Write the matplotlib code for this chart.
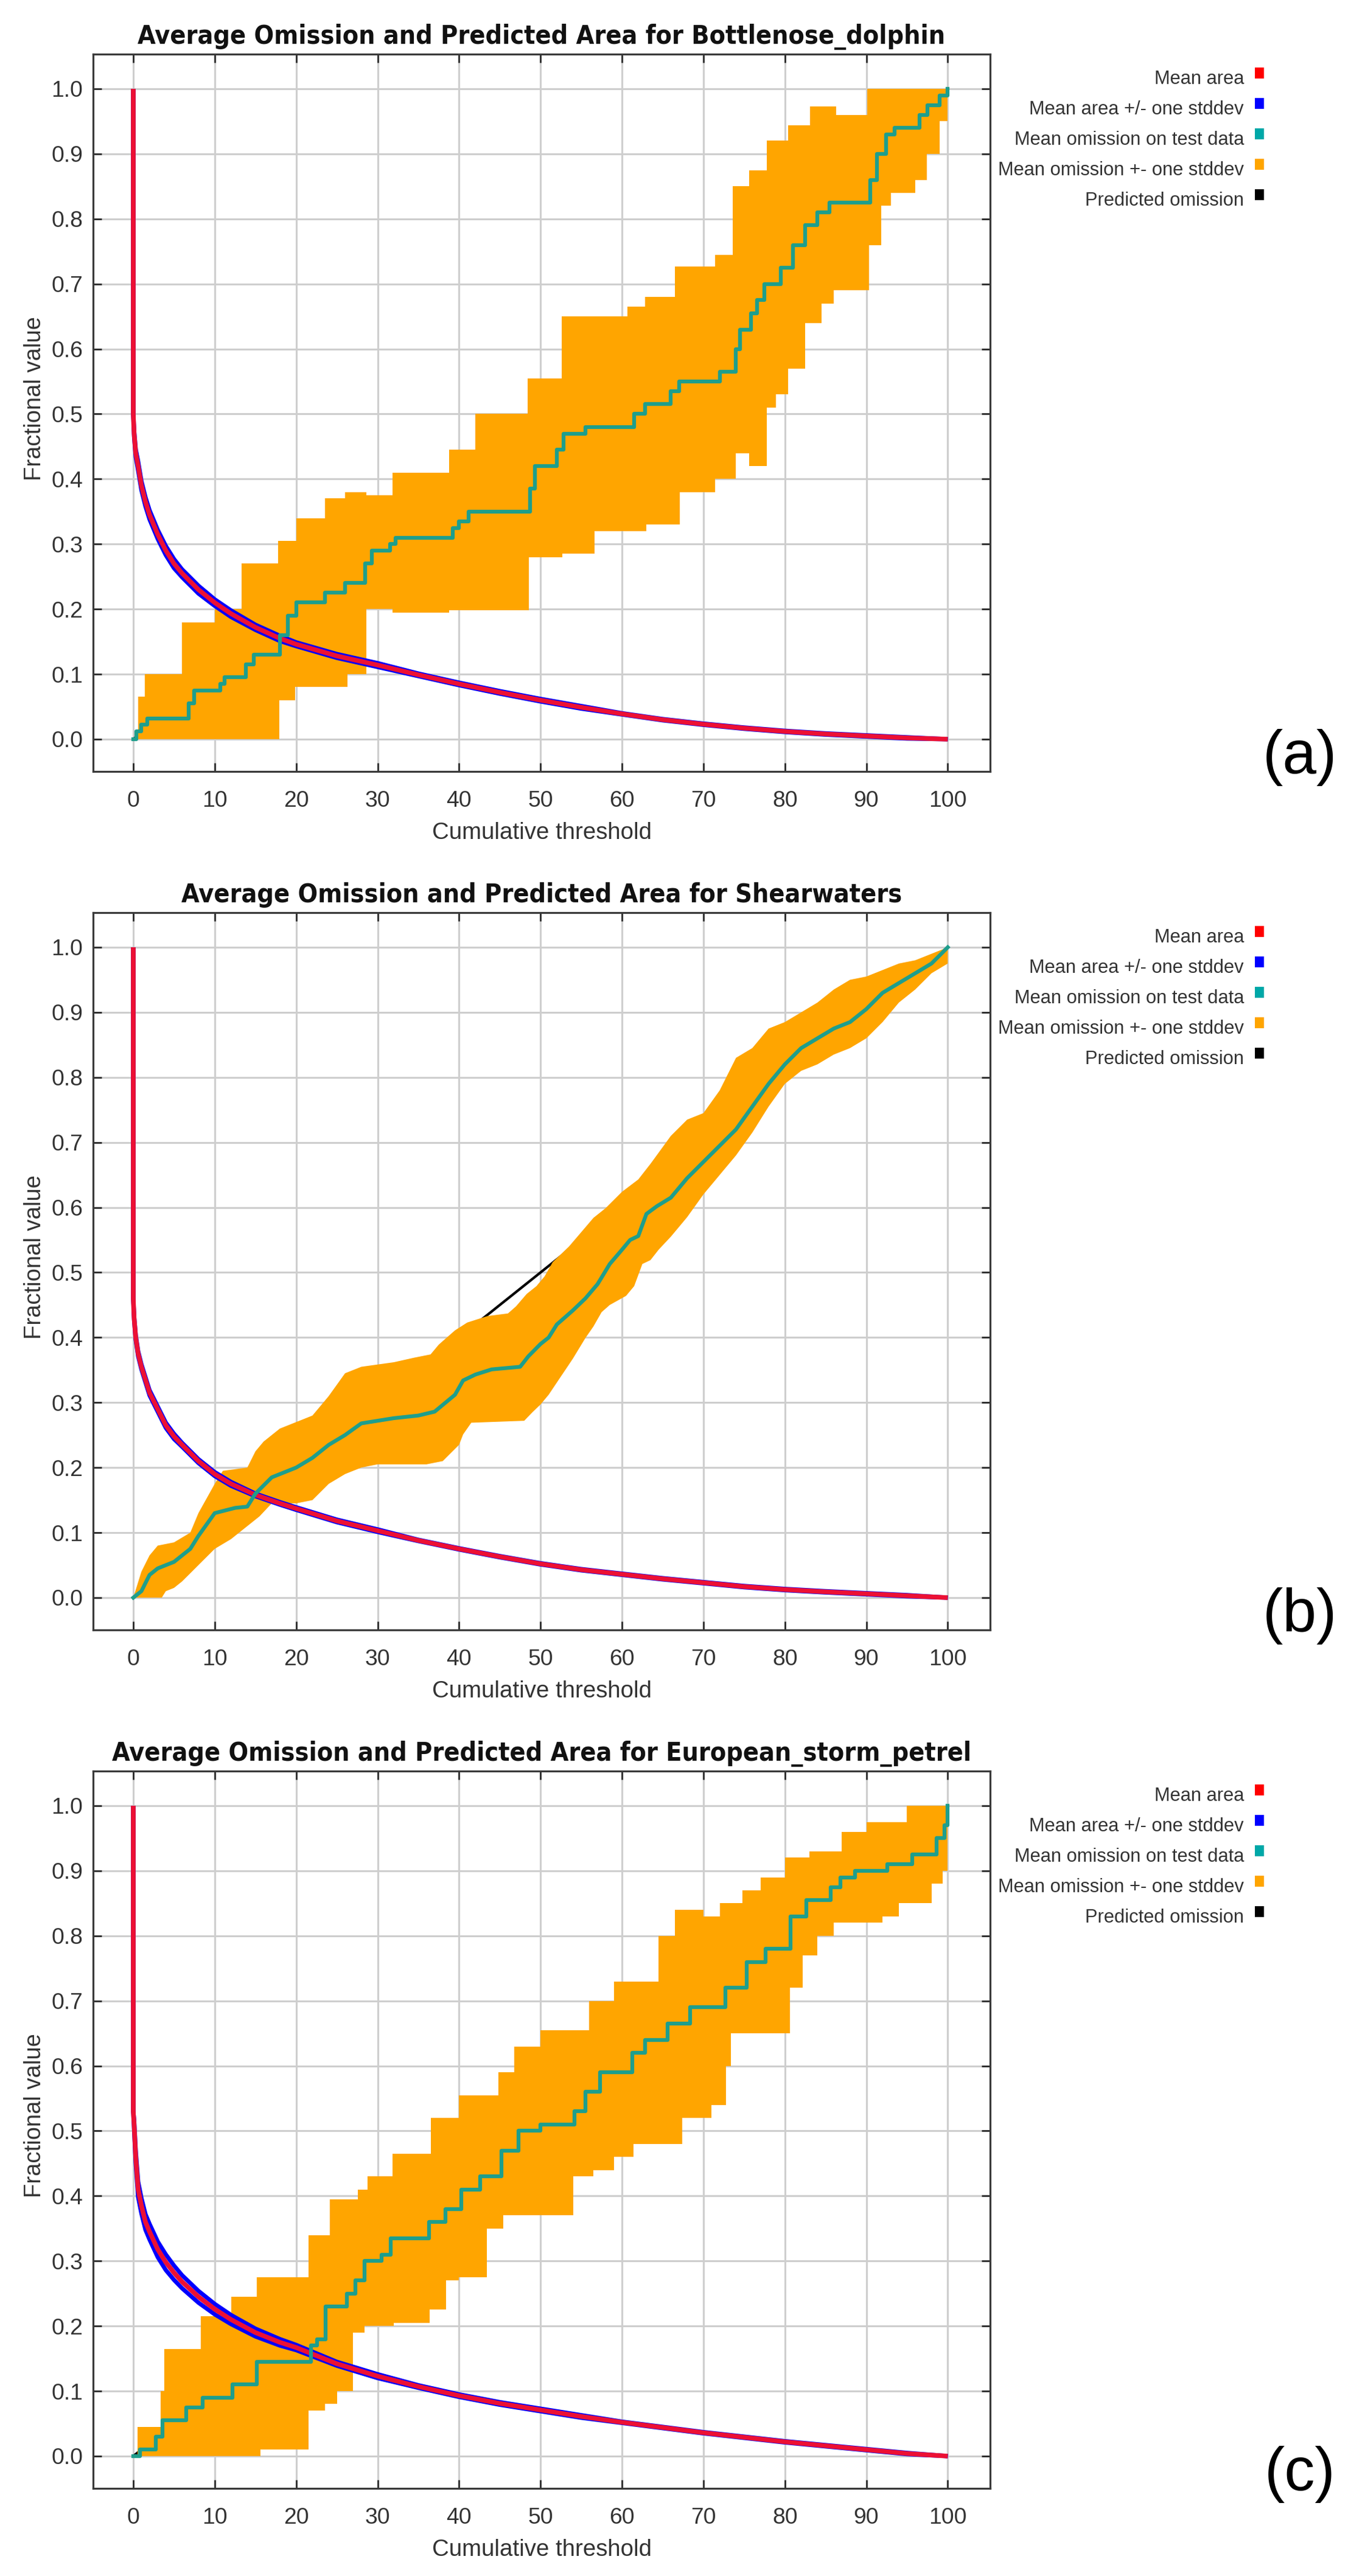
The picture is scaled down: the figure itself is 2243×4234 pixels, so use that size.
import numpy as np
import matplotlib
matplotlib.use("Agg")
import matplotlib.pyplot as plt
from matplotlib import font_manager
from matplotlib.patches import Rectangle

# ---------------- text ----------------
TITLES = ["Average Omission and Predicted Area for Bottlenose_dolphin",
          "Average Omission and Predicted Area for Shearwaters",
          "Average Omission and Predicted Area for European_storm_petrel"]
PANEL_LABELS = ["(a)", "(b)", "(c)"]
LEGEND_LABELS = ["Mean area", "Mean area +/- one stddev", "Mean omission on test data",
                 "Mean omission +- one stddev", "Predicted omission"]
LEGEND_COLORS = ["#FF0000", "#0000FF", "#00A8A8", "#FFA500", "#000000"]
X_TICKS = [0, 10, 20, 30, 40, 50, 60, 70, 80, 90, 100]
Y_TICKS = [0.0, 0.1, 0.2, 0.3, 0.4, 0.5, 0.6, 0.7, 0.8, 0.9, 1.0]
X_LABEL = "Cumulative threshold"
Y_LABEL = "Fractional value"

# ---------------- mean predicted area ----------------
AREA_X = [0, 0, 0.1, 0.3, 0.6, 1, 1.5, 2, 3, 4, 5, 6, 8, 10, 12, 15, 18, 20, 25, 30,
          35, 40, 45, 50, 55, 60, 65, 70, 75, 80, 85, 90, 95, 100]
AREA_A = [1.0, 0.50, 0.47, 0.44, 0.42, 0.39, 0.365, 0.345, 0.315, 0.29, 0.27, 0.255, 0.23,
          0.21, 0.193, 0.172, 0.155, 0.146, 0.128, 0.114, 0.099, 0.085, 0.072, 0.060, 0.049,
          0.039, 0.030, 0.023, 0.017, 0.012, 0.008, 0.005, 0.002, 0.0]
AREA_SD_A = [0, 0, 0.005, 0.006, 0.007, 0.007, 0.007, 0.007, 0.007, 0.007, 0.007, 0.006, 0.006,
             0.005, 0.005, 0.004, 0.004, 0.003, 0.003, 0.003, 0.002, 0.002, 0.002, 0.002, 0.002,
             0.001, 0.001, 0.001, 0.001, 0.001, 0.001, 0.001, 0.001, 0.0]
AREA_B = [1.0, 0.46, 0.43, 0.40, 0.375, 0.355, 0.335, 0.315, 0.29, 0.265, 0.248, 0.235, 0.21,
          0.19, 0.175, 0.158, 0.145, 0.137, 0.118, 0.103, 0.088, 0.075, 0.063, 0.052, 0.043,
          0.036, 0.029, 0.023, 0.017, 0.0125, 0.009, 0.006, 0.003, 0.0]
AREA_SD_B = [0, 0, 0.003, 0.004, 0.004, 0.004, 0.004, 0.004, 0.004, 0.004, 0.004, 0.003, 0.003,
             0.003, 0.003, 0.002, 0.002, 0.002, 0.002, 0.002, 0.001, 0.001, 0.001, 0.001, 0.001,
             0.001, 0.001, 0.001, 0.001, 0.001, 0.001, 0.001, 0.001, 0.0]
AREA_C = [1.0, 0.53, 0.51, 0.46, 0.41, 0.385, 0.36, 0.345, 0.318, 0.298, 0.282, 0.268, 0.245,
          0.226, 0.21, 0.19, 0.175, 0.167, 0.142, 0.123, 0.107, 0.093, 0.081, 0.071, 0.061,
          0.052, 0.044, 0.036, 0.029, 0.022, 0.016, 0.010, 0.004, 0.0]
AREA_SD_C = [0, 0, 0.008, 0.010, 0.012, 0.012, 0.012, 0.012, 0.012, 0.012, 0.011, 0.010, 0.009,
             0.008, 0.007, 0.006, 0.005, 0.004, 0.003, 0.003, 0.002, 0.002, 0.002, 0.002, 0.002,
             0.001, 0.001, 0.001, 0.001, 0.001, 0.001, 0.001, 0.001, 0.0]

# ---------------- predicted omission ----------------
PRED_X = [0, 100]
PRED_Y = [0.0, 1.0]

# ---------------- panel (a): step series (start x, value) ----------------
TEAL_A_X = [0, 0.4, 1.0, 1.7, 6.8, 7.5, 10.7, 11.2, 13.8, 14.8, 18.0, 19.0, 20.0, 23.5, 26.0,
            28.5, 29.3, 31.5, 32.2, 39.2, 40.0, 41.2, 48.7, 49.3, 52.0, 52.8, 55.5, 61.5, 62.8,
            66.0, 67.0, 72.0, 74.0, 74.5, 75.8, 76.6, 77.5, 79.5, 81.0, 82.5, 84.0, 85.5, 90.5,
            91.3, 92.4, 93.5, 96.5, 97.5, 99.0]
TEAL_A = [0.0, 0.012, 0.022, 0.032, 0.055, 0.075, 0.085, 0.095, 0.115, 0.13, 0.16, 0.19, 0.21,
          0.225, 0.24, 0.27, 0.29, 0.30, 0.31, 0.325, 0.335, 0.35, 0.385, 0.42, 0.445, 0.47, 0.48,
          0.50, 0.515, 0.535, 0.55, 0.565, 0.60, 0.63, 0.655, 0.675, 0.70, 0.725, 0.76, 0.79,
          0.81, 0.825, 0.86, 0.90, 0.93, 0.94, 0.96, 0.975, 0.99]
UP_A_X = [0, 0.6, 1.4, 6.0, 10.0, 13.3, 17.8, 20.0, 23.5, 26.0, 28.6, 31.8, 38.8, 42.0, 48.4,
          52.6, 60.7, 62.8, 66.5, 71.4, 73.6, 75.6, 77.8, 80.4, 83.1, 86.3, 90.1]
UP_A = [0.0, 0.065, 0.10, 0.18, 0.20, 0.27, 0.305, 0.34, 0.37, 0.38, 0.375, 0.41, 0.445, 0.50,
        0.555, 0.65, 0.665, 0.68, 0.727, 0.745, 0.85, 0.875, 0.92, 0.944, 0.973, 0.96, 1.0]
LO_A_X = [0, 17.9, 19.9, 26.3, 28.6, 31.8, 38.8, 48.6, 52.7, 56.6, 63.0, 67.1, 71.4, 74.0, 75.6,
          77.8, 78.9, 80.4, 82.5, 84.5, 86.0, 90.3, 91.8, 93.0, 96.0, 97.4, 99.0]
LO_A = [0.0, 0.06, 0.08, 0.10, 0.20, 0.195, 0.198, 0.28, 0.285, 0.32, 0.33, 0.38, 0.40, 0.44,
        0.42, 0.51, 0.53, 0.57, 0.64, 0.67, 0.69, 0.76, 0.82, 0.84, 0.86, 0.90, 0.95]

# ---------------- panel (b): smooth series ----------------
TEAL_B_X = [0, 1, 2, 3, 5, 7, 8, 10, 12.5, 14, 15, 17, 20, 22, 24, 26, 28, 30, 32, 35, 37, 39.5,
            40.5, 42, 44, 47.5, 48.5, 50, 51, 52, 54, 55.5, 57, 58.5, 60, 61, 62, 63, 64.3, 66,
            68, 70, 72, 74, 76, 78, 80, 82, 84, 86, 88, 90, 92, 94, 96, 98, 100]
TEAL_B = [0.0, 0.01, 0.035, 0.045, 0.055, 0.075, 0.095, 0.13, 0.138, 0.14, 0.16, 0.185, 0.20,
          0.215, 0.235, 0.25, 0.268, 0.272, 0.276, 0.28, 0.286, 0.312, 0.334, 0.343, 0.351,
          0.355, 0.371, 0.39, 0.40, 0.42, 0.442, 0.46, 0.482, 0.513, 0.535, 0.55, 0.556, 0.59,
          0.602, 0.615, 0.645, 0.67, 0.695, 0.72, 0.755, 0.79, 0.82, 0.845, 0.86, 0.875, 0.885,
          0.905, 0.93, 0.945, 0.96, 0.975, 1.0]
UP_B_X = [0, 1, 2, 3, 5, 7, 8, 10, 11, 14, 15, 16, 18, 20, 22, 24, 26, 28, 32, 34.5, 36.5, 37.5,
          39.5, 41, 43.5, 46, 47, 48.3, 49.5, 50.5, 51.5, 53.5, 55, 56.5, 58, 60, 62, 63.5, 66,
          68, 70, 72, 74, 76, 78, 80, 82, 84, 86, 88, 90, 92, 94, 96, 98, 100]
UP_B = [0.0, 0.04, 0.065, 0.08, 0.085, 0.10, 0.13, 0.175, 0.195, 0.20, 0.225, 0.24, 0.26, 0.27,
        0.28, 0.31, 0.345, 0.355, 0.362, 0.369, 0.374, 0.389, 0.411, 0.423, 0.433, 0.437, 0.448,
        0.467, 0.479, 0.494, 0.516, 0.54, 0.562, 0.584, 0.599, 0.624, 0.643, 0.667, 0.71, 0.735,
        0.745, 0.78, 0.83, 0.845, 0.875, 0.885, 0.90, 0.915, 0.935, 0.95, 0.955, 0.965, 0.975,
        0.98, 0.99, 1.0]
LO_B_X = [0, 3.5, 4, 5, 6, 8, 10, 12, 14, 15.5, 17, 20, 22, 24, 26, 28, 30, 36, 38, 40, 40.5,
          41.5, 48, 49, 50, 51, 52.5, 54, 55.5, 56.5, 57.5, 58.5, 60.5, 61.5, 62.5, 63.5, 64.5,
          66, 68, 70, 72, 74, 76, 78, 80, 82, 84, 86, 88, 90, 92, 94, 96, 98, 100]
LO_B = [0.0, 0.0, 0.01, 0.015, 0.025, 0.05, 0.075, 0.09, 0.11, 0.125, 0.145, 0.145, 0.15, 0.175,
        0.19, 0.20, 0.205, 0.205, 0.21, 0.235, 0.251, 0.269, 0.272, 0.285, 0.297, 0.312, 0.34,
        0.368, 0.399, 0.417, 0.439, 0.45, 0.464, 0.479, 0.513, 0.519, 0.535, 0.555, 0.585, 0.62,
        0.65, 0.68, 0.715, 0.755, 0.79, 0.81, 0.82, 0.835, 0.845, 0.86, 0.885, 0.915, 0.935,
        0.96, 0.975]

# ---------------- panel (c): step series (start x, value) ----------------
TEAL_C_X = [0, 0.8, 2.8, 3.6, 6.5, 8.5, 12.2, 15.2, 21.8, 22.6, 23.6, 26.2, 27.3, 28.4, 30.5,
            31.6, 36.3, 38.3, 40.3, 42.6, 45.2, 47.3, 50.0, 54.2, 55.5, 57.3, 61.3, 62.8, 65.6,
            68.4, 72.7, 75.3, 77.6, 80.7, 82.6, 85.6, 86.8, 88.6, 92.6, 95.6, 98.6, 99.6]
TEAL_C = [0.0, 0.01, 0.03, 0.055, 0.075, 0.09, 0.11, 0.145, 0.17, 0.18, 0.23, 0.25, 0.27, 0.30,
          0.31, 0.335, 0.36, 0.38, 0.41, 0.43, 0.47, 0.50, 0.51, 0.53, 0.56, 0.59, 0.62, 0.64,
          0.665, 0.69, 0.72, 0.76, 0.78, 0.83, 0.855, 0.875, 0.89, 0.90, 0.91, 0.925, 0.95, 0.97]
UP_C_X = [0, 0.5, 3.4, 3.8, 8.3, 12.0, 15.2, 21.5, 24.1, 27.6, 28.8, 31.8, 36.5, 40.0, 44.8,
          46.8, 50.0, 56.0, 59.0, 64.5, 66.5, 70.0, 72.0, 74.8, 77.0, 80.0, 83.0, 87.0, 90.0,
          95.0]
UP_C = [0.0, 0.045, 0.10, 0.165, 0.215, 0.245, 0.275, 0.34, 0.395, 0.41, 0.43, 0.465, 0.52,
        0.555, 0.59, 0.63, 0.655, 0.70, 0.73, 0.80, 0.84, 0.83, 0.85, 0.87, 0.89, 0.92, 0.93,
        0.96, 0.975, 1.0]
LO_C_X = [0, 15.6, 21.5, 23.5, 25.0, 27.0, 28.4, 32.0, 36.4, 38.4, 40.0, 43.4, 45.4, 54.0,
          56.5, 59.0, 61.4, 67.4, 71.0, 72.8, 73.4, 80.6, 82.2, 84.0, 86.0, 92.0, 94.0, 98.0,
          99.4]
LO_C = [0.0, 0.01, 0.07, 0.08, 0.10, 0.19, 0.20, 0.205, 0.225, 0.27, 0.275, 0.35, 0.37, 0.43,
        0.44, 0.46, 0.48, 0.52, 0.54, 0.60, 0.65, 0.72, 0.77, 0.80, 0.82, 0.83, 0.85, 0.88, 0.90]


def steps(xs, vs, x_end, v_end):
    px, py = [], []
    for i, (x, v) in enumerate(zip(xs, vs)):
        nx = xs[i + 1] if i + 1 < len(xs) else x_end
        px += [x, nx]
        py += [v, v]
    px.append(x_end)
    py.append(v_end)
    return np.array(px), np.array(py)


panels = []
tx, ty = steps(TEAL_A_X, TEAL_A, 100, 1.0)
ux, uy = steps(UP_A_X, UP_A, 100, 1.0)
lx, ly = steps(LO_A_X, LO_A, 100, 1.0)
panels.append(dict(area=AREA_A, sd=AREA_SD_A, teal=(tx, ty), up=(ux, uy), lo=(lx, ly)))
panels.append(dict(area=AREA_B, sd=AREA_SD_B, teal=(np.array(TEAL_B_X), np.array(TEAL_B)),
                   up=(np.array(UP_B_X), np.array(UP_B)), lo=(np.array(LO_B_X), np.array(LO_B))))
tx, ty = steps(TEAL_C_X, TEAL_C, 100, 1.0)
ux, uy = steps(UP_C_X, UP_C, 100, 1.0)
lx, ly = steps(LO_C_X, LO_C, 100, 0.90)
panels.append(dict(area=AREA_C, sd=AREA_SD_C, teal=(tx, ty), up=(ux, uy), lo=(lx, ly)))


def has_font(name):
    try:
        font_manager.findfont(font_manager.FontProperties(family=name), fallback_to_default=False)
        return True
    except Exception:
        return False


REG = "Liberation Sans" if has_font("Liberation Sans") else "DejaVu Sans"
NARROW = "Liberation Sans Narrow" if has_font("Liberation Sans Narrow") else REG

W, H = 2243, 4234
DPI = 100
fig = plt.figure(figsize=(W / DPI, H / DPI), dpi=DPI)
renderer = fig.canvas.get_renderer()


def fit_size(text, target_px, **kw):
    t = fig.text(0, 0, text, fontsize=40, **kw)
    w = t.get_window_extent(renderer).width
    t.remove()
    return 40 * target_px / w


title_fs = fit_size(TITLES[0], 1324, family="DejaVu Sans", weight="bold", stretch="condensed")
tick_fs = fit_size("100", 62, family=REG)
legend_fs = fit_size(LEGEND_LABELS[2], 378, family=NARROW)
xlabel_fs = fit_size(X_LABEL, 361, family=REG)
ylabel_fs = fit_size(Y_LABEL, 270, family=REG)

AX_L, AX_R, AX_T, AX_B = 153, 1627, 89, 1268
STEP = 1411
TEXT_COL = "#333333"


def fx(px):
    return px / W


def fy(py):
    return 1 - py / H


for i, p in enumerate(panels):
    off = STEP * i
    ax = fig.add_axes([fx(AX_L), fy(AX_B + off), (AX_R - AX_L) / W, (AX_B - AX_T) / H])
    ax.set_xlim(-4.93, 105.2)
    ax.set_ylim(-0.0496, 1.0533)
    ax.set_xticks(X_TICKS)
    ax.set_yticks(Y_TICKS)
    ax.set_yticklabels([f"{v:.1f}" for v in Y_TICKS])
    ax.grid(True, color="#CECECE", lw=2.2)
    ax.set_axisbelow(True)
    for s in ax.spines.values():
        s.set_linewidth(2.3)
        s.set_color("#3A3A3A")
    ax.tick_params(direction="in", length=10, width=2.0, color="#2A2A2A", top=True,
                   right=True, labelsize=tick_fs, labelcolor=TEXT_COL)
    ax.tick_params(axis="x", pad=22)
    ax.tick_params(axis="y", pad=12)
    for lab in ax.get_xticklabels() + ax.get_yticklabels():
        lab.set_family(REG)

    ax.plot(PRED_X, PRED_Y, color="black", lw=3.0, zorder=2)
    ux, uy = p["up"]
    lx, ly = p["lo"]
    ax.fill(np.r_[ux, lx[::-1]], np.r_[uy, ly[::-1]], color="#FFA500", lw=0, zorder=3)
    a = np.array(p["area"])
    sd = np.array(p["sd"])
    ax.plot(AREA_X, a + sd, color="#0000FF", lw=5.0, zorder=4, solid_capstyle="butt")
    ax.plot(AREA_X, a - sd, color="#0000FF", lw=5.0, zorder=4, solid_capstyle="butt")
    ax.plot(AREA_X, a, color="#EC1034", lw=5.5, zorder=5, solid_capstyle="butt")
    tx, ty = p["teal"]
    ax.plot(tx, ty, color="#1E9E8C", lw=4.5, zorder=6)

    ax.text((890 - AX_L) / (AX_R - AX_L), (AX_B - 1379) / (AX_B - AX_T), X_LABEL,
            transform=ax.transAxes, ha="center", va="baseline", fontsize=xlabel_fs,
            family=REG, color=TEXT_COL)
    ax.text((57 - AX_L) / (AX_R - AX_L), (AX_B - 655) / (AX_B - AX_T), Y_LABEL,
            transform=ax.transAxes, ha="center", va="center", rotation=90,
            fontsize=ylabel_fs, family=REG, color=TEXT_COL)

    fig.text(fx((AX_L + AX_R) / 2), fy(72 + off), TITLES[i], ha="center", va="baseline",
             fontsize=title_fs, family="DejaVu Sans", weight="bold", stretch="condensed",
             color="#111111")

    for k, (lab, col) in enumerate(zip(LEGEND_LABELS, LEGEND_COLORS)):
        base = 138 + 50 * k + off
        fig.text(fx(2044), fy(base), lab, ha="right", va="baseline", fontsize=legend_fs,
                 family=NARROW, color=TEXT_COL)
        fig.add_artist(Rectangle((fx(2062), fy(base - 9)), 15 / W, 18 / H,
                                 transform=fig.transFigure, facecolor=col, edgecolor="none"))

    fig.text(fx(2136), fy(1271 + off), PANEL_LABELS[i], ha="center", va="baseline",
             fontsize=72, family=REG, color="black")

fig.savefig("out.png", dpi=DPI, facecolor="white")
